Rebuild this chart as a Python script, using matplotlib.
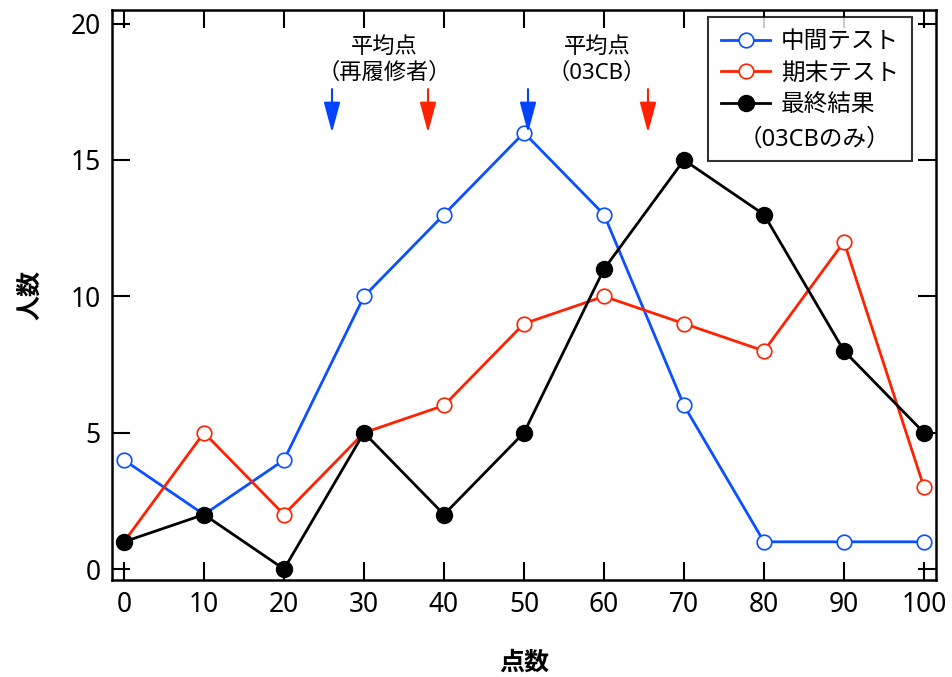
import matplotlib
matplotlib.use("Agg")
import matplotlib.pyplot as plt

plt.rcParams['font.family'] = ['Noto Sans', 'Noto Sans CJK JP', 'DejaVu Sans']

# scores and counts
scores = [0, 10, 20, 30, 40, 50, 60, 70, 80, 90, 100]
midterm = [4, 2, 4, 10, 13, 16, 13, 6, 1, 1, 1]
final_exam = [1, 5, 2, 5, 6, 9, 10, 9, 8, 12, 3]
final_result = [1, 2, 0, 5, 2, 5, 11, 15, 13, 8, 5]

# average marks (arrows)
avg_retake = [26, 38]      # blue = midterm, red = final
avg_03cb = [50.5, 65.5]
arrow_colors = ['#0044ff', '#ff2200']

fig = plt.figure(figsize=(9.53, 6.77), dpi=100)
ax = fig.add_axes([112/953, 1 - 580/677, 824/953, 570/677])

ax.plot(scores, midterm, color='#0a50ff', lw=2, marker='o', ms=10.5,
        mfc='white', mec='#0a50ff', mew=1.2, label='中間テスト', zorder=3)
ax.plot(scores, final_exam, color='#ff2200', lw=2, marker='o', ms=10.5,
        mfc='white', mec='#ff2200', mew=1.2, label='期末テスト', zorder=3)
ax.plot(scores, final_result, color='black', lw=2, marker='o', ms=11.5,
        mfc='black', mec='black', label='最終結果', zorder=4)
ax.plot([], [], ' ', label=' ')

for xs in (avg_retake, avg_03cb):
    for xv, c in zip(xs, arrow_colors):
        ax.annotate('', xy=(xv, 16.0), xytext=(xv, 17.6),
                    arrowprops=dict(arrowstyle='-|>,head_length=0.67,head_width=0.18',
                                    color=c, lw=1.5, mutation_scale=28,
                                    shrinkA=0, shrinkB=0))

ax.text(32.5, 18.65, '平均点\n（再履修者）', ha='center', va='center',
        fontsize=16, linespacing=1.25)
ax.text(59.1, 18.65, '平均点\n（03CB）', ha='center', va='center',
        fontsize=16, linespacing=1.25)

ax.set_xlim(-1.5, 101.5)
ax.set_ylim(-0.4, 20.5)
ax.set_xticks(range(0, 101, 10))
ax.set_yticks(range(0, 21, 5))
ax.tick_params(direction='in', length=13, width=1.5, top=True, right=True,
               labelsize=19, pad=8)
for s in ax.spines.values():
    s.set_linewidth(1.8)

ax.set_xlabel('点数', fontsize=18, fontweight='bold', labelpad=23)
ax.set_ylabel('人数', fontsize=18, fontweight='bold', labelpad=20)

leg = ax.legend(loc='upper right', bbox_to_anchor=(0.971, 0.988), fontsize=17,
                frameon=True, fancybox=False, edgecolor='black',
                handlelength=2.1, borderpad=0.55, labelspacing=0.32,
                handletextpad=0.45, borderaxespad=0)
leg.get_frame().set_linewidth(1.5)
# second line of the last legend entry
ax.text(0.852, 0.772, '（03CBのみ）', transform=ax.transAxes,
        ha='center', va='center', fontsize=17, zorder=6)

plt.savefig('out.png', dpi=100)
